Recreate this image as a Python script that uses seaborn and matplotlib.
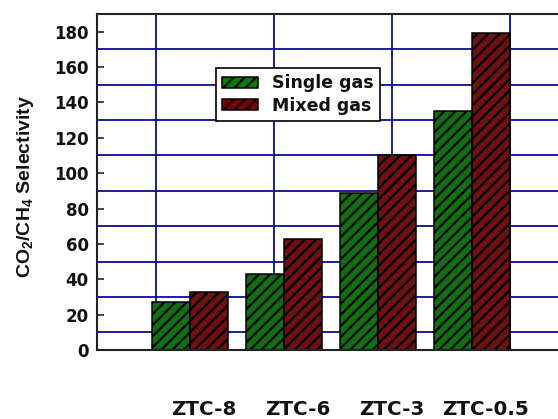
import numpy as np
import pandas as pd
import matplotlib
matplotlib.use("Agg")
import matplotlib.pyplot as plt
import matplotlib.transforms as mtransforms
from matplotlib.patches import Patch
import seaborn as sns

# Sample names and CO2/CH4 selectivity for each gas condition
samples = ["ZTC-8", "ZTC-6", "ZTC-3", "ZTC-0.5"]
single_gas = [27, 43, 89, 135]
mixed_gas = [33, 63, 110, 179]
series_names = ["Single gas", "Mixed gas"]
y_ticks = [0, 20, 40, 60, 80, 100, 120, 140, 160, 180]

GREEN = "#008000"
RED = "#800000"
GRID = "#0c0c96"
INK = "#111111"

df = pd.DataFrame({
    "sample": samples * 2,
    "selectivity": single_gas + mixed_gas,
    "gas": [series_names[0]] * len(samples) + [series_names[1]] * len(samples),
})

sns.set_theme(style="white")
plt.rcParams["font.family"] = ["DejaVu Sans"]
plt.rcParams["font.weight"] = "bold"
plt.rcParams["text.color"] = INK
plt.rcParams["hatch.linewidth"] = 1.6
plt.rcParams["hatch.color"] = "black"
plt.rcParams["mathtext.fontset"] = "custom"
plt.rcParams["mathtext.rm"] = "Liberation Sans:bold"
plt.rcParams["mathtext.it"] = "Liberation Sans:bold"
plt.rcParams["mathtext.bf"] = "Liberation Sans:bold"

fig = plt.figure(figsize=(5.58, 4.19), dpi=100)
ax = fig.add_axes([97 / 558, 69 / 419, 483 / 558, 336 / 419])

sns.barplot(
    data=df, x="sample", y="selectivity", hue="gas",
    palette=[GREEN, RED], errorbar=None, width=0.8,
    edgecolor="black", linewidth=1.1, hatch="///",
    legend=False, ax=ax,
)

ax.set_xlim(-0.99, 4.15)
ax.set_ylim(0, 190)

# Grid: horizontal lines between the labelled ticks, vertical lines on a coarser spacing
ax.set_yticks(y_ticks)
ax.set_yticks(np.arange(10, 191, 20), minor=True)
ax.set_xticks(np.arange(-0.365, 4.2, 1.256), minor=True)
ax.set_axisbelow(True)
ax.grid(False)
ax.grid(True, which="minor", color=GRID, linewidth=1.3)

ax.tick_params(axis="y", which="major", direction="in", length=5, width=1.2,
               color="#222222", labelsize=12, pad=6, left=True)
ax.tick_params(axis="both", which="minor", length=0)
ax.tick_params(axis="x", which="major", length=0, labelsize=14.3, pad=36)
for lab in ax.get_yticklabels() + ax.get_xticklabels():
    lab.set_fontweight("bold")
    lab.set_color(INK)

# shift category labels slightly to the right
offset = mtransforms.ScaledTranslation(14 / 100, 0, fig.dpi_scale_trans)
for lab in ax.get_xticklabels():
    lab.set_transform(lab.get_transform() + offset)

ax.set_xlabel("")
ax.set_ylabel(r"CO$_2$/CH$_4$ Selectivity", fontsize=14, fontweight="bold",
              family="Liberation Sans", va="center", color=INK)
ax.yaxis.set_label_coords(-0.149, 0.488)

for side in ["left", "bottom", "top"]:
    ax.spines[side].set_visible(True)
    ax.spines[side].set_color("#222222")
    ax.spines[side].set_linewidth(1.5)
ax.spines["right"].set_visible(False)

handles = [
    Patch(facecolor=GREEN, edgecolor="black", hatch="///", linewidth=1.1, label=series_names[0]),
    Patch(facecolor=RED, edgecolor="black", hatch="///", linewidth=1.1, label=series_names[1]),
]
leg = ax.legend(
    handles=handles, loc="upper left", bbox_to_anchor=(0.246, 0.839),
    borderaxespad=0, frameon=True, fancybox=False, framealpha=1,
    edgecolor="black", prop={"weight": "bold", "size": 12.5},
    handlelength=2.1, handleheight=0.6, handletextpad=0.8,
    labelspacing=0.25, borderpad=0.35,
)
leg.get_frame().set_linewidth(1.2)
for t in leg.get_texts():
    t.set_color(INK)

fig.savefig("out.png", dpi=100, facecolor="white")
